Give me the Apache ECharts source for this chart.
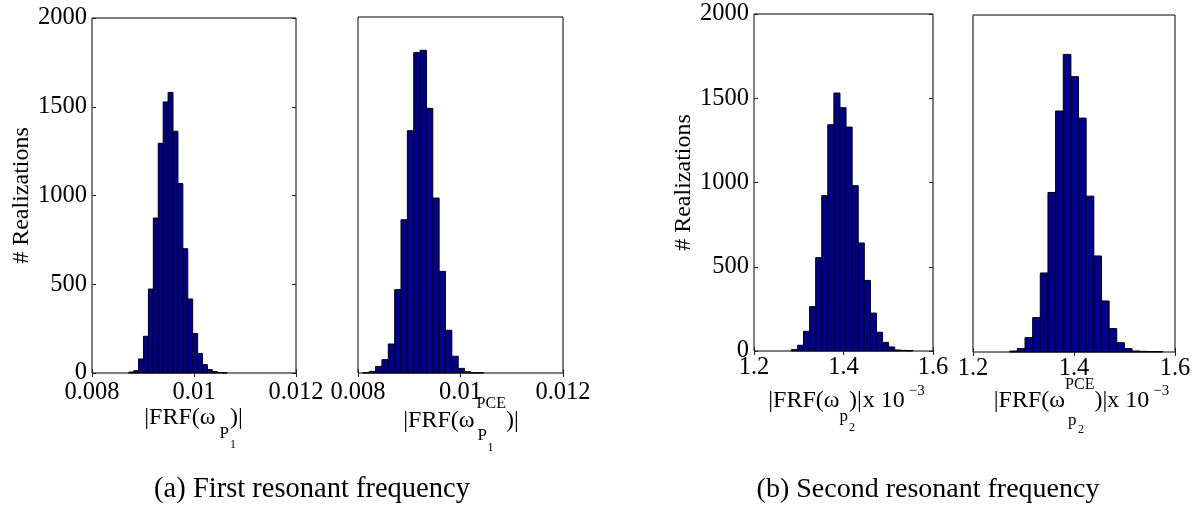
<!DOCTYPE html>
<html><head><meta charset="utf-8">
<script src="https://cdn.jsdelivr.net/npm/echarts@6/dist/echarts.min.js"></script>
<style>html,body{margin:0;padding:0;background:#fff}#c{width:1200px;height:514px}</style>
</head><body><div id="c"></div>
<script>
// ---------- data ----------
const yTickValues = [0, 500, 1000, 1500, 2000];
const xTickLabelsA = ['0.008', '0.01', '0.012'];
const xTickLabelsB = ['1.2', '1.4', '1.6'];

// (a) |FRF(w_P1)|  (Monte Carlo)
const binsA1 = [0.008768,0.008865,0.008961,0.009058,0.009154,0.009251,0.009347,0.009444,0.009540,0.009637,
                0.009733,0.009830,0.009926,0.010023,0.010119,0.010216,0.010312,0.010409,0.010505,0.010602];
const countsA1 = [5,13,79,207,473,873,1294,1527,1581,1362,1067,700,417,222,109,47,19,8,3,1];
const binWidthA1 = 0.0000965;

// (a) |FRF(w_P1^PCE)|
const binsA2 = [0.008157,0.008281,0.008405,0.008529,0.008653,0.008777,0.008901,0.009025,0.009149,0.009273,
                0.009397,0.009521,0.009645,0.009769,0.009893,0.010017,0.010141,0.010265,0.010389];
const countsA2 = [2,9,37,75,163,468,861,1361,1800,1813,1487,983,571,240,94,26,7,2,1];
const binWidthA2 = 0.000124;

// (b) |FRF(w_p2)| x 1e-3
const binsB1 = [1.2902,1.3038,1.3174,1.3310,1.3446,1.3581,1.3717,1.3853,1.3989,1.4125,
                1.4261,1.4397,1.4533,1.4669,1.4805,1.4940,1.5076,1.5212,1.5348,1.5484];
const countsB1 = [8,34,117,263,554,922,1343,1531,1444,1329,981,641,419,225,111,51,24,6,4,3];
const binWidthB1 = 0.01359;

// (b) |FRF(w_p2^PCE)| x 1e-3
const binsB2 = [1.2803,1.2954,1.3106,1.3257,1.3408,1.3560,1.3711,1.3863,1.4014,1.4165,
                1.4317,1.4468,1.4620,1.4771,1.4922,1.5074,1.5225,1.5376,1.5528,1.5679];
const countsB2 = [6,20,85,204,469,947,1430,1766,1634,1388,925,570,303,139,55,20,6,4,3,3];
const binWidthB2 = 0.01514;

const yAxisTitle = '# Realizations';
const captionA = '(a) First resonant frequency';
const captionB = '(b) Second resonant frequency';

// ---------- chart ----------
const FONT = 'Liberation Serif';
const BAR = '#00008f';

const grids = [
  {left: 92, top: 18, width: 204, height: 355},
  {left: 358, top: 17, width: 205, height: 356},
  {left: 754, top: 14, width: 179, height: 337},
  {left: 973, top: 15, width: 202, height: 337}
];

function fmtFrom(labels, min, step) {
  return function (v) {
    const i = Math.round((v - min) / step);
    return labels[i] !== undefined ? labels[i] : '';
  };
}
function yFmt(v) {
  const i = yTickValues.indexOf(Math.round(v));
  return i >= 0 ? String(yTickValues[i]) : '';
}

function renderHist(binW) {
  return function (params, api) {
    const c = api.value(0), v = api.value(1);
    const p0 = api.coord([c - binW / 2, v]);
    const p1 = api.coord([c + binW / 2, 0]);
    return {
      type: 'rect',
      shape: {x: p0[0], y: p0[1], width: p1[0] - p0[0], height: p1[1] - p0[1]},
      style: {fill: BAR, stroke: '#000', lineWidth: 1}
    };
  };
}

const panels = [
  {bins: binsA1, counts: countsA1, w: binWidthA1, min: 0.008, max: 0.012, step: 0.002, labels: xTickLabelsA, yl: true, xm: 7, ng: 55},
  {bins: binsA2, counts: countsA2, w: binWidthA2, min: 0.008, max: 0.012, step: 0.002, labels: xTickLabelsA, yl: false, xm: 7, ng: 55},
  {bins: binsB1, counts: countsB1, w: binWidthB1, min: 1.2, max: 1.6, step: 0.2, labels: xTickLabelsB, yl: true, xm: 4, ng: 56},
  {bins: binsB2, counts: countsB2, w: binWidthB2, min: 1.2, max: 1.6, step: 0.2, labels: xTickLabelsB, yl: false, xm: 4, ng: 56}
];

const xAxes = [], yAxes = [], series = [];
panels.forEach((p, i) => {
  xAxes.push({
    type: 'value', gridIndex: i, min: p.min, max: p.max, interval: p.step, position: 'bottom',
    axisLine: {show: false}, splitLine: {show: false},
    axisTick: {show: true, inside: true, length: 4, lineStyle: {color: '#222'}},
    axisLabel: {show: true, margin: p.xm, fontFamily: FONT, fontSize: 24.5, color: '#000', formatter: fmtFrom(p.labels, p.min, p.step)}
  });
  yAxes.push({
    type: 'value', gridIndex: i, min: 0, max: 2000, interval: 500, position: 'left',
    axisLine: {show: false}, splitLine: {show: false},
    axisTick: {show: p.yl, inside: true, length: 4, lineStyle: {color: '#222'}},
    axisLabel: {show: p.yl, margin: 5, fontFamily: FONT, fontSize: 24.5, color: '#000', formatter: yFmt},
    name: p.yl ? yAxisTitle : '', nameLocation: 'middle', nameRotate: 90, nameGap: p.ng,
    nameTextStyle: {fontFamily: FONT, fontSize: 24, color: '#000'}
  });
  series.push({
    type: 'custom', xAxisIndex: i, yAxisIndex: i, renderItem: renderHist(p.w),
    data: p.bins.map((b, k) => [b, p.counts[k]]), clip: false, silent: true
  });
});
panels.forEach((p, i) => {
  xAxes.push({
    type: 'value', gridIndex: i, min: p.min, max: p.max, interval: p.step, position: 'top',
    axisLine: {show: false}, splitLine: {show: false}, axisLabel: {show: false},
    axisTick: {show: true, inside: true, length: 4, lineStyle: {color: '#222'}}
  });
  yAxes.push({
    type: 'value', gridIndex: i, min: 0, max: 2000, interval: 500, position: 'right',
    axisLine: {show: false}, splitLine: {show: false}, axisLabel: {show: false},
    axisTick: {show: p.yl, inside: true, length: 4, lineStyle: {color: '#222'}}
  });
});

// ---------- axis titles with sub/superscripts ----------
const mctx = document.createElement('canvas').getContext('2d');
function tw(t, fs) { mctx.font = fs + 'px "' + FONT + '"'; return mctx.measureText(t).width; }

function composeLabel(frags, centerX) {
  let cursor = 0, mark = 0, maxX = 0;
  const placed = frags.map(f => {
    const x = (f.from === 'mark' ? mark : cursor) + (f.dx || 0);
    const w = tw(f.t, f.fs);
    if (f.mark) mark = x;
    if (f.adv !== false) cursor = x + w;
    maxX = Math.max(maxX, x + w);
    return {x: x, f: f};
  });
  const shift = centerX - maxX / 2;
  return placed.map(pl => ({
    type: 'text', x: pl.x + shift, y: pl.f.y, silent: true,
    style: {text: pl.f.t, fontFamily: FONT, fontSize: pl.f.fs, fill: '#000', align: 'left', verticalAlign: 'middle'}
  }));
}

const titleA1 = [
  {t: '|FRF(ω', fs: 24, y: 418},
  {t: 'P', fs: 17, y: 434, dx: 4},
  {t: '1', fs: 12, y: 445, dx: 1, adv: false},
  {t: ')|', fs: 24, y: 418, dx: 1}
];
const titleA2 = [
  {t: '|FRF(ω', fs: 24, y: 421},
  {t: 'PCE', fs: 16, y: 404, dx: 2, mark: true},
  {t: 'P', fs: 17, y: 436, from: 'mark', dx: 1, adv: false},
  {t: '1', fs: 12, y: 448, from: 'mark', dx: 11, adv: false},
  {t: ')|', fs: 24, y: 421}
];
const titleB1 = [
  {t: '|FRF(ω', fs: 24, y: 401},
  {t: 'p', fs: 17, y: 417},
  {t: '2', fs: 12, y: 428, dx: 1, adv: false},
  {t: ')|', fs: 24, y: 401, dx: 1},
  {t: 'x 10', fs: 24, y: 401, dx: 1},
  {t: '−3', fs: 15, y: 391, dx: 4}
];
const titleB2 = [
  {t: '|FRF(ω', fs: 24, y: 401},
  {t: 'PCE', fs: 16, y: 385, mark: true},
  {t: 'p', fs: 17, y: 421, from: 'mark', dx: 3, adv: false},
  {t: '2', fs: 12, y: 430, from: 'mark', dx: 13, adv: false},
  {t: ')|', fs: 24, y: 401},
  {t: 'x 10', fs: 24, y: 401},
  {t: '−3', fs: 15, y: 391, dx: 4}
];

const graphics = [].concat(
  composeLabel(titleA1, 193.5),
  composeLabel(titleA2, 461),
  composeLabel(titleB1, 846.5),
  composeLabel(titleB2, 1081.5),
  [
    {type: 'text', x: 312, y: 490, silent: true,
     style: {text: captionA, fontFamily: FONT, fontSize: 28.5, fill: '#000', align: 'center', verticalAlign: 'middle'}},
    {type: 'text', x: 928, y: 490, silent: true,
     style: {text: captionB, fontFamily: FONT, fontSize: 28, fill: '#000', align: 'center', verticalAlign: 'middle'}}
  ]
);

const chart = echarts.init(document.getElementById('c'), null, {renderer: 'canvas'});
chart.setOption({
  animation: false,
  backgroundColor: '#fff',
  grid: grids.map(g => Object.assign({show: true, borderColor: '#000', borderWidth: 1, backgroundColor: 'transparent', containLabel: false}, g)),
  xAxis: xAxes,
  yAxis: yAxes,
  series: series,
  graphic: graphics
});
</script>
</body></html>
